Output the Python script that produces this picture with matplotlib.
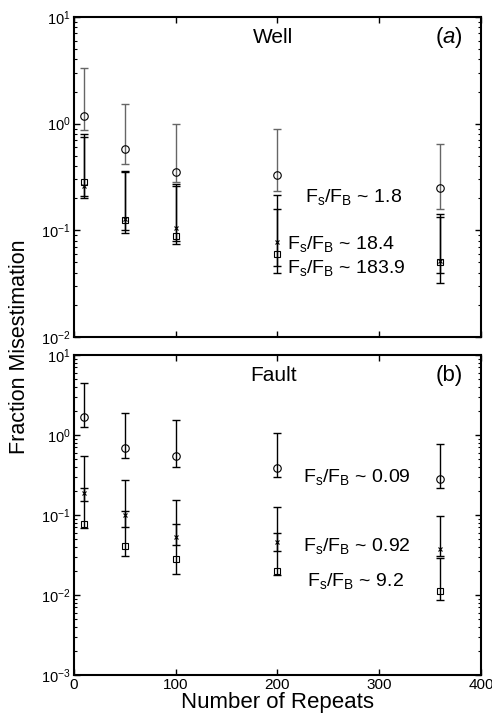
import matplotlib
matplotlib.use("Agg")
import matplotlib.pyplot as plt
import numpy as np
from matplotlib.ticker import LogLocator, FixedLocator, NullFormatter

plt.rcParams['font.family'] = ['Liberation Sans', 'DejaVu Sans']
plt.rcParams['mathtext.fontset'] = 'custom'
plt.rcParams['mathtext.rm'] = 'Liberation Sans'
plt.rcParams['mathtext.it'] = 'Liberation Sans:italic'
plt.rcParams['mathtext.bf'] = 'Liberation Sans:bold'

repeats = [10, 50, 100, 200, 360]

# Panel (a) Well
well_circle = [1.19, 0.58, 0.353, 0.327, 0.25]
well_circle_lo = [0.88, 0.42, 0.283, 0.235, 0.16]
well_circle_hi = [3.3, 1.54, 0.99, 0.89, 0.65]
well_cross = [0.26, 0.128, 0.104, 0.078, 0.052]
well_cross_lo = [0.21, 0.10, 0.080, 0.046, 0.040]
well_cross_hi = [0.80, 0.36, 0.27, 0.212, 0.141]
well_square = [0.283, 0.125, 0.088, 0.060, 0.051]
well_square_lo = [0.20, 0.095, 0.074, 0.040, 0.032]
well_square_hi = [0.75, 0.35, 0.26, 0.157, 0.134]
well_labels = [r'F$_\mathrm{s}$/F$_\mathrm{B}$ ~ 1.8',
               r'F$_\mathrm{s}$/F$_\mathrm{B}$ ~ 18.4',
               r'F$_\mathrm{s}$/F$_\mathrm{B}$ ~ 183.9']

# Panel (b) Fault
fault_circle = [1.68, 0.695, 0.54, 0.385, 0.28]
fault_circle_lo = [1.26, 0.52, 0.40, 0.30, 0.22]
fault_circle_hi = [4.5, 1.86, 1.52, 1.05, 0.78]
fault_cross = [0.19, 0.10, 0.053, 0.046, 0.038]
fault_cross_lo = [0.148, 0.070, 0.0427, 0.0353, 0.031]
fault_cross_hi = [0.54, 0.27, 0.154, 0.126, 0.098]
fault_square = [0.077, 0.041, 0.0283, 0.0199, 0.0112]
fault_square_lo = [0.068, 0.031, 0.0184, 0.0176, 0.0086]
fault_square_hi = [0.217, 0.111, 0.078, 0.0597, 0.0286]
fault_labels = [r'F$_\mathrm{s}$/F$_\mathrm{B}$ ~ 0.09',
                r'F$_\mathrm{s}$/F$_\mathrm{B}$ ~ 0.92',
                r'F$_\mathrm{s}$/F$_\mathrm{B}$ ~ 9.2']

xticks = [0, 100, 200, 300, 400]

fig = plt.figure(figsize=(4.92, 7.25), dpi=100)
ax1 = fig.add_axes([0.150, 0.5352, 0.828, 0.4414])
ax2 = fig.add_axes([0.150, 0.0690, 0.828, 0.4414])


def draw(ax, y, lo, hi, marker, color, ms):
    y = np.array(y)
    err = np.vstack([y - np.array(lo), np.array(hi) - y])
    ax.errorbar(repeats, y, yerr=err, fmt='none', ecolor=color,
                elinewidth=1.0, capsize=3.2, capthick=1.0, zorder=2)
    ax.plot(repeats, y, linestyle='none', marker=marker, markersize=ms,
            markerfacecolor='none', markeredgecolor='black',
            markeredgewidth=0.8, zorder=3)


draw(ax1, well_circle, well_circle_lo, well_circle_hi, 'o', '#666666', 5.4)
draw(ax1, well_cross, well_cross_lo, well_cross_hi, 'x', 'black', 3.0)
draw(ax1, well_square, well_square_lo, well_square_hi, 's', 'black', 3.8)

draw(ax2, fault_circle, fault_circle_lo, fault_circle_hi, 'o', 'black', 5.4)
draw(ax2, fault_cross, fault_cross_lo, fault_cross_hi, 'x', 'black', 3.0)
draw(ax2, fault_square, fault_square_lo, fault_square_hi, 's', 'black', 3.8)

for ax, ylim in ((ax1, (1e-2, 10)), (ax2, (1e-3, 10))):
    ax.set_yscale('log')
    ax.set_xlim(0, 400)
    ax.set_ylim(*ylim)
    ax.xaxis.set_major_locator(FixedLocator(xticks))
    ax.yaxis.set_major_locator(LogLocator(base=10, numticks=10))
    ax.yaxis.set_minor_locator(LogLocator(base=10, subs=np.arange(2, 10), numticks=20))
    ax.yaxis.set_minor_formatter(NullFormatter())
    ax.tick_params(which='both', direction='in', top=True, right=True,
                   labelsize=10.5, pad=2)
    ax.tick_params(which='major', length=4, width=1.0)
    ax.tick_params(which='minor', length=2.5, width=0.8)
    for s in ax.spines.values():
        s.set_linewidth(1.5)

ax1.tick_params(axis='x', labelbottom=False)
ax2.tick_params(axis='x', pad=2)
ax2.set_xticklabels([str(v) for v in xticks], fontsize=11)
ax2.set_xlabel('Number of Repeats', fontsize=16, labelpad=0)
fig.text(0.040, 0.522, 'Fraction Misestimation', rotation=90,
         ha='center', va='center', fontsize=15.5)

ax1.text(0.49, 0.935, 'Well', transform=ax1.transAxes, ha='center', va='center', fontsize=15)
ax1.text(0.955, 0.935, r'($\mathit{a}$)', transform=ax1.transAxes, ha='right', va='center', fontsize=16)
ax2.text(0.49, 0.935, 'Fault', transform=ax2.transAxes, ha='center', va='center', fontsize=15)
ax2.text(0.955, 0.935, '(b)', transform=ax2.transAxes, ha='right', va='center', fontsize=16)

fs = 14
fig.text(305 / 492, 1 - 197 / 725, well_labels[0], ha='left', va='center', fontsize=fs)
fig.text(287 / 492, 1 - 244 / 725, well_labels[1], ha='left', va='center', fontsize=fs)
fig.text(287 / 492, 1 - 268 / 725, well_labels[2], ha='left', va='center', fontsize=fs)

fig.text(303 / 492, 1 - 477 / 725, fault_labels[0], ha='left', va='center', fontsize=fs)
fig.text(303 / 492, 1 - 546 / 725, fault_labels[1], ha='left', va='center', fontsize=fs)
fig.text(307 / 492, 1 - 581 / 725, fault_labels[2], ha='left', va='center', fontsize=fs)

fig.savefig('out.png', dpi=100)
